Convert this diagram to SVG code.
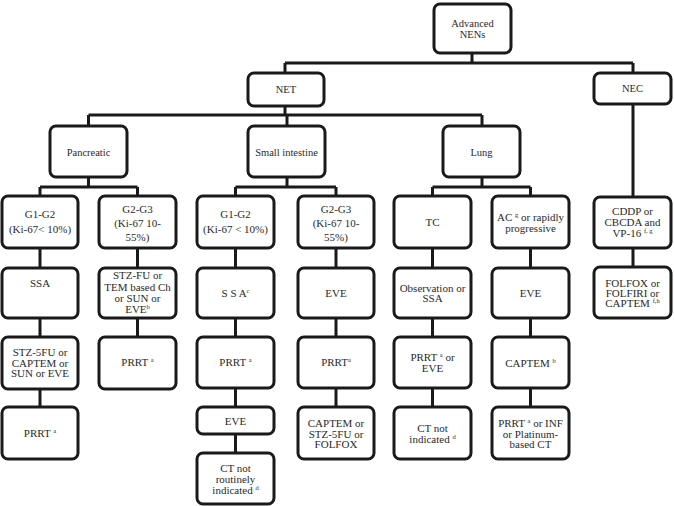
<svg xmlns="http://www.w3.org/2000/svg" width="674" height="506" viewBox="0 0 674 506">
<style>
.b{fill:#fff;stroke:#1a1a1a;stroke-width:3}
.c{fill:none;stroke:#1a1a1a;stroke-width:3}
text{font-family:"Liberation Serif","Times New Roman","DejaVu Serif",serif;font-size:11px;fill:#2a2a2a;text-anchor:middle}
.s{font-size:10.5px}
.sup{font-size:6.5px}
</style>
<rect width="674" height="506" fill="#fff"/>
<g id="connectors" class="c">
<path d="M472 53V63M285 63H633M285 63V73M633 63V73"/>
<path d="M285 106V115M88.5 115H482M88.5 115V126M287 115V126M482 115V126"/>
<path d="M633 104V197M633 248V267"/>
<path d="M88.5 177V187M40 187H137.5M40 187V196M137.5 187V196"/>
<path d="M287 177V187M235.5 187H336M235.5 187V196M336 187V196"/>
<path d="M482 177V187M432.5 187H530.5M432.5 187V196M530.5 187V196"/>
<path d="M40 248V268M40 318V337M40 389V407"/>
<path d="M137.5 248V268M137.5 318V337"/>
<path d="M235.5 248V268M235.5 318V337M235.5 388V407M235.5 434V453"/>
<path d="M336 248V268M336 318V337M336 388V407"/>
<path d="M432.5 248V268M432.5 318V337M432.5 388V407"/>
<path d="M530.5 248V268M530.5 318V337M530.5 388V407"/>
</g>
<g id="advanced"><rect class="b" x="434" y="4" width="77" height="49" rx="6"/><text class="s" x="472.5" y="27">Advanced</text><text class="s" x="472.5" y="38">NENs</text></g>
<g id="net"><rect class="b" x="248" y="73" width="76" height="33" rx="6"/><text class="s" x="286" y="93">NET</text></g>
<g id="nec"><rect class="b" x="594" y="73" width="77" height="31" rx="6"/><text class="s" x="632.5" y="92">NEC</text></g>
<g id="pancreatic"><rect class="b" x="50" y="126" width="77" height="51" rx="6"/><text class="s" x="88.5" y="156">Pancreatic</text></g>
<g id="small-intestine"><rect class="b" x="248" y="126" width="77" height="51" rx="6"/><text class="s" x="286.5" y="156">Small intestine</text></g>
<g id="lung"><rect class="b" x="443" y="126" width="77" height="51" rx="6"/><text class="s" x="481.5" y="156">Lung</text></g>

<g id="p-g1"><rect class="b" x="2" y="196" width="76" height="52" rx="6"/><text x="40" y="218">G1-G2</text><text x="40" y="233">(Ki-67&lt; 10%)</text></g>
<g id="p-g2"><rect class="b" x="99" y="196" width="77" height="52" rx="6"/><text x="137.5" y="213">G2-G3</text><text x="137.5" y="227">(Ki-67 10-</text><text x="137.5" y="241">55%)</text></g>
<g id="s-g1"><rect class="b" x="197" y="196" width="77" height="52" rx="6"/><text x="235.5" y="218">G1-G2</text><text x="235.5" y="233">(Ki-67 &lt; 10%)</text></g>
<g id="s-g2"><rect class="b" x="298" y="196" width="76" height="52" rx="6"/><text x="336" y="213">G2-G3</text><text x="336" y="227">(Ki-67 10-</text><text x="336" y="241">55%)</text></g>
<g id="l-tc"><rect class="b" x="394" y="196" width="77" height="52" rx="6"/><text x="432.5" y="226">TC</text></g>
<g id="l-ac"><rect class="b" x="492" y="196" width="77" height="52" rx="6"/><text x="530.5" y="221">AC <tspan class="sup" dy="-4">g</tspan><tspan dy="4"> or rapidly</tspan></text><text x="530.5" y="232">progressive</text></g>
<g id="n-cddp"><rect class="b" x="594" y="197" width="77" height="51" rx="6"/><text x="632.5" y="215">CDDP or</text><text x="632.5" y="226">CBCDA and</text><text x="632.5" y="237">VP-16 <tspan class="sup" dy="-4">f, g</tspan></text></g>

<g id="p-ssa"><rect class="b" x="2" y="268" width="76" height="50" rx="6"/><text x="40" y="287">SSA</text></g>
<g id="p-stzfu"><rect class="b" x="99" y="268" width="77" height="50" rx="6"/><text x="137.5" y="279">STZ-FU or</text><text x="137.5" y="291">TEM based Ch</text><text x="137.5" y="302">or SUN or</text><text x="137.5" y="313">EVE<tspan class="sup" dy="-4">b</tspan></text></g>
<g id="s-ssa"><rect class="b" x="197" y="268" width="77" height="50" rx="6"/><text x="235.5" y="297">S S A<tspan class="sup" dy="-4">c</tspan></text></g>
<g id="s-eve"><rect class="b" x="298" y="268" width="76" height="50" rx="6"/><text x="336" y="297">EVE</text></g>
<g id="l-obs"><rect class="b" x="394" y="268" width="77" height="50" rx="6"/><text x="432.5" y="292">Observation or</text><text x="432.5" y="302">SSA</text></g>
<g id="l-eve"><rect class="b" x="492" y="268" width="77" height="50" rx="6"/><text x="530.5" y="297">EVE</text></g>
<g id="n-folfox"><rect class="b" x="594" y="267" width="77" height="51" rx="6"/><text x="632.5" y="287">FOLFOX or</text><text x="632.5" y="297">FOLFIRI  or</text><text x="632.5" y="307">CAPTEM <tspan class="sup" dy="-4">f,h</tspan></text></g>

<g id="p-stz5fu"><rect class="b" x="2" y="337" width="76" height="52" rx="6"/><text x="40" y="356">STZ-5FU or</text><text x="40" y="367">CAPTEM or</text><text x="40" y="377">SUN or EVE</text></g>
<g id="p-prrt2"><rect class="b" x="99" y="337" width="77" height="52" rx="6"/><text x="137.5" y="366">PRRT <tspan class="sup" dy="-4">a</tspan></text></g>
<g id="s-prrt1"><rect class="b" x="197" y="337" width="77" height="51" rx="6"/><text x="235.5" y="366">PRRT <tspan class="sup" dy="-4">a</tspan></text></g>
<g id="s-prrt2"><rect class="b" x="298" y="337" width="76" height="51" rx="6"/><text x="336" y="366">PRRT<tspan class="sup" dy="-4">a</tspan></text></g>
<g id="l-prrt"><rect class="b" x="394" y="337" width="77" height="51" rx="6"/><text x="432.5" y="361">PRRT <tspan class="sup" dy="-4">a</tspan><tspan dy="4"> or</tspan></text><text x="432.5" y="372">EVE</text></g>
<g id="l-captem"><rect class="b" x="492" y="337" width="77" height="51" rx="6"/><text x="530.5" y="367">CAPTEM <tspan class="sup" dy="-4">b</tspan></text></g>

<g id="p-prrt1"><rect class="b" x="2" y="407" width="76" height="52" rx="6"/><text x="40" y="437">PRRT <tspan class="sup" dy="-4">a</tspan></text></g>
<g id="s-eve2"><rect class="b" x="197" y="407" width="77" height="27" rx="6"/><text x="235.5" y="425">EVE</text></g>
<g id="s-ct"><rect class="b" x="197" y="453" width="77" height="51" rx="6"/><text x="235.5" y="472">CT not</text><text x="235.5" y="483">routinely</text><text x="235.5" y="494">indicated <tspan class="sup" dy="-4">d</tspan></text></g>
<g id="s-captem"><rect class="b" x="298" y="407" width="76" height="52" rx="6"/><text x="336" y="427">CAPTEM or</text><text x="336" y="438">STZ-5FU or</text><text x="336" y="448">FOLFOX</text></g>
<g id="l-ct"><rect class="b" x="394" y="407" width="77" height="52" rx="6"/><text x="432.5" y="432">CT not</text><text x="432.5" y="443">indicated <tspan class="sup" dy="-4">d</tspan></text></g>
<g id="l-prrt2"><rect class="b" x="492" y="407" width="77" height="52" rx="6"/><text x="530.5" y="427">PRRT <tspan class="sup" dy="-4">a</tspan><tspan dy="4">  or INF</tspan></text><text x="530.5" y="438">or Platinum-</text><text x="530.5" y="448">based CT</text></g>
</svg>
